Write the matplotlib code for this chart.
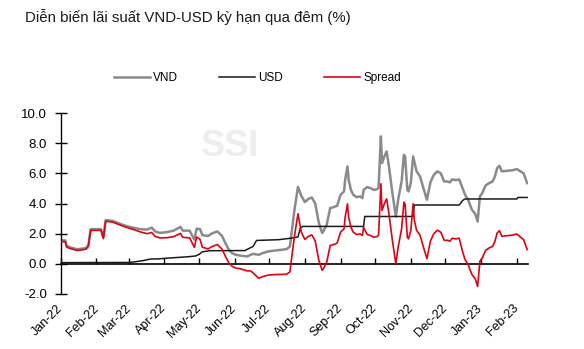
import numpy as np
import pandas as pd
import matplotlib
matplotlib.use("Agg")
import matplotlib.pyplot as plt
from matplotlib import font_manager

# ---------------- data (x = days since 2022-01-01) ----------------
start = pd.Timestamp("2022-01-01")

vnd_days = [0, 4, 5, 8, 14, 18, 22, 24, 26,
            35, 37, 39, 45, 51, 57,
            63, 69, 75, 79, 82, 86,
            92, 98, 104, 106, 112, 116, 118,
            121, 123, 128, 131, 136, 140, 143, 146, 149,
            152, 157, 162, 165, 167, 172, 175, 180,
            186, 192, 196, 199, 201, 203, 205, 206, 209,
            212, 215, 218, 221, 224, 227, 228, 231, 234, 237, 240,
            243, 246, 247, 249, 250, 252, 254, 257, 260, 262, 263, 266, 269, 272,
            275, 276, 278, 279, 281, 283, 285, 288, 291, 293, 296, 298, 299, 301, 302,
            304, 306, 307, 309, 312, 315, 318, 321, 324, 327, 330, 333,
            336, 338, 340, 343, 346, 349, 351, 354, 357, 360, 362, 364,
            366, 369, 372, 375, 377, 379, 381, 383, 392,
            396, 402, 405]
vnd = [1.55, 1.55, 1.2, 1.1, 0.97, 1.0, 1.05, 1.25, 2.3,
       2.3, 1.75, 2.9, 2.85, 2.67, 2.5,
       2.4, 2.3, 2.27, 2.4, 2.15, 2.05,
       2.1, 2.2, 2.45, 2.2, 2.2, 1.6, 2.33,
       2.3, 1.9, 1.85, 2.0, 2.15, 1.85, 1.37, 0.93, 0.7,
       0.6, 0.53, 0.49, 0.6, 0.66, 0.6, 0.7, 0.82,
       0.88, 0.93, 0.97, 1.15, 2.4, 3.6, 4.6, 5.1, 4.5,
       4.1, 4.3, 4.4, 4.0, 2.75, 2.05, 2.15, 2.6, 3.7, 3.76, 3.85,
       4.58, 4.8, 5.58, 6.46, 5.58, 4.9, 4.58, 4.42, 4.47, 4.36, 4.9, 5.09, 5.02, 4.9,
       4.96, 5.05, 8.45, 6.68, 7.12, 7.45, 6.46, 4.69, 3.14, 4.25, 5.46, 7.23, 7.1, 4.9, 4.8,
       5.35, 7.12, 6.8, 6.13, 5.8, 5.0, 4.25, 5.4, 5.9, 6.13, 6.0, 5.46,
       5.46, 5.4, 5.6, 5.55, 5.6, 5.0, 4.6, 4.2, 3.6, 3.3, 2.8, 4.47,
       4.69, 5.2, 5.35, 5.46, 5.79, 6.35, 6.5, 6.13, 6.2,
       6.28, 6.0, 5.35]

usd_days = [0, 60, 66, 72, 78, 85, 93, 105, 112, 117, 120, 123, 130, 160, 163, 167,
            170, 189, 200, 206, 208, 210, 263, 264, 306, 307, 346, 349, 351, 396, 397, 405]
usd = [0.08, 0.09, 0.15, 0.22, 0.32, 0.33, 0.38, 0.44, 0.48, 0.52, 0.62, 0.8, 0.87, 0.88, 1.0, 1.15,
       1.55, 1.6, 1.7, 1.78, 2.35, 2.48, 2.48, 3.14, 3.14, 3.9, 3.9, 4.2, 4.3, 4.3, 4.4, 4.4]

spread_days = vnd_days
spread = [1.47, 1.47, 1.12, 1.02, 0.89, 0.92, 0.97, 1.17, 2.22,
          2.22, 1.67, 2.82, 2.77, 2.59, 2.42,
          2.28, 2.12, 2.0, 2.08, 1.82, 1.72,
          1.73, 1.8, 2.02, 1.76, 1.72, 1.09, 1.78,
          1.62, 1.1, 0.99, 1.13, 1.28, 0.98, 0.5, 0.06, -0.17,
          -0.28, -0.35, -0.47, -0.47, -0.6, -0.96, -0.86, -0.75,
          -0.71, -0.7, -0.69, -0.54, 0.69, 1.86, 2.83, 3.32, 2.08,
          1.62, 1.82, 1.92, 1.52, 0.27, -0.43, -0.33, 0.12, 1.22, 1.28, 1.37,
          2.1, 2.32, 3.1, 3.98, 3.1, 2.42, 2.1, 1.94, 1.99, 1.88, 2.42, 1.95, 1.88, 1.76,
          1.82, 1.91, 5.31, 3.54, 3.98, 4.31, 3.32, 1.55, 0.0, 1.11, 2.32, 4.09, 3.96, 1.76, 1.66,
          2.21, 3.98, 2.9, 2.23, 1.9, 1.1, 0.35, 1.5, 2.0, 2.23, 2.1, 1.56,
          1.56, 1.5, 1.7, 1.65, 1.7, 0.8, 0.3, -0.1, -0.7, -1.0, -1.5, 0.17,
          0.39, 0.9, 1.05, 1.16, 1.49, 2.05, 2.2, 1.83, 1.9,
          1.98, 1.6, 0.95]

tick_labels = ["Jan-22", "Feb-22", "Mar-22", "Apr-22", "May-22", "Jun-22", "Jul-22",
               "Aug-22", "Sep-22", "Oct-22", "Nov-22", "Dec-22", "Jan-23", "Feb-23"]
y_ticks = [-2.0, 0.0, 2.0, 4.0, 6.0, 8.0, 10.0]

series_names = ["VND", "USD", "Spread"]
title = "Diễn biến lãi suất VND-USD kỳ hạn qua đêm (%)"

# ---------------- fonts ----------------
avail = {f.name for f in font_manager.fontManager.ttflist}
narrow = "Liberation Sans Narrow" if "Liberation Sans Narrow" in avail else "Liberation Sans"
plt.rcParams["font.family"] = [narrow, "DejaVu Sans"]

# ---------------- figure ----------------
fig = plt.figure(figsize=(5.84, 3.49), dpi=100)
ax = fig.add_axes([0.104, 0.1576, 0.7996, 0.5186])

def to_dates(days):
    return start + pd.to_timedelta(days, unit="D")

l1, = ax.plot(to_dates(vnd_days), vnd, color="#8a8a8a", lw=1.8, label=series_names[0], zorder=2)
l2, = ax.plot(to_dates(usd_days), usd, color="#1a1a1a", lw=1.1, label=series_names[1], zorder=3)
l3, = ax.plot(to_dates(spread_days), spread, color="#e00010", lw=1.2, label=series_names[2], zorder=4)

month_pos = pd.date_range("2022-01-01", periods=len(tick_labels), freq="MS")
ax.set_xlim(start, start + pd.Timedelta(days=405.5))
ax.set_ylim(-2, 10)

ax.set_yticks(y_ticks)
ax.set_yticklabels([f"{v:.1f}" for v in y_ticks], fontsize=9.5)
ax.tick_params(axis="y", direction="inout", length=8, width=1, pad=6, colors="black")

ax.set_xticks(month_pos)
ax.set_xticklabels(tick_labels, rotation=45, ha="right", va="center",
                   rotation_mode="anchor", fontsize=9)
ax.tick_params(axis="x", length=0, pad=9)

for s in ["top", "right", "bottom"]:
    ax.spines[s].set_visible(False)
ax.spines["left"].set_linewidth(1.0)

# zero line with upward month ticks
zero_ax = ax.secondary_xaxis(2 / 12)
zero_ax.set_xticks(month_pos)
zero_ax.set_xticklabels([])
zero_ax.tick_params(axis="x", direction="in", length=4, width=1)
zero_ax.spines["bottom"].set_linewidth(1.2)
zero_ax.spines["top"].set_visible(False)

# watermark
fig.text(0.394, 0.58, "SSI", fontsize=26, fontweight="bold", color="#ededed",
         ha="center", va="center", zorder=0)

fig.text(0.043, 0.952, title, fontsize=10.8, color="#1a1a1a", ha="left", va="center")

fig.legend(handles=[l1, l2, l3], loc="center", bbox_to_anchor=(0.441, 0.776),
           ncol=3, frameon=False, fontsize=8.5, handlelength=3.0,
           handletextpad=0.3, columnspacing=3.5)

fig.savefig("out.png", dpi=100)
